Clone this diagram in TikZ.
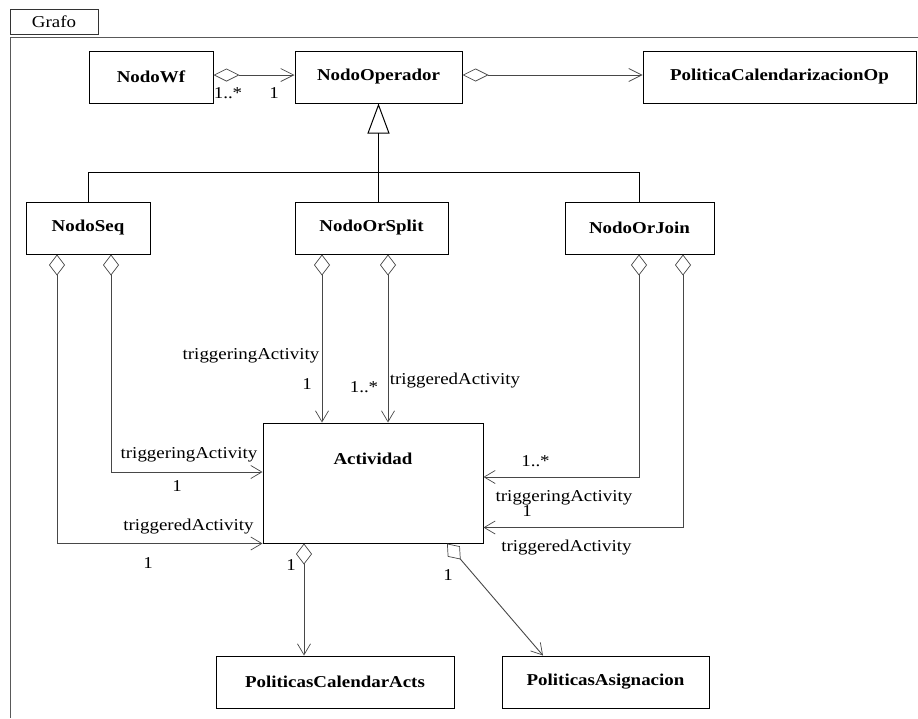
\documentclass[tikz,border=0pt]{standalone}
\usepackage{fontspec}
\setmainfont{Liberation Serif}[FakeStretch=1.14]
\usetikzlibrary{arrows.meta,calc}

\begin{document}
\begin{tikzpicture}[x=1pt,y=-1pt,
  txt/.style={font=\fontsize{16.6}{19}\selectfont},
  cls/.style={draw=black, line width=1pt, fill=white, inner sep=0pt,
    minimum height=52pt, font=\fontsize{16.6}{19}\selectfont\bfseries},
  lbl/.style={txt, inner sep=0pt, text=black},
  assoc/.style={draw=black!72, line width=0.9pt},
  aggnav/.style={assoc, arrows={Diamond[open,length=21pt,width=16pt,line width=0.7pt]-Straight Barb[length=11pt,width=13pt,line width=0.7pt]}},
  aggnavh/.style={assoc, arrows={Diamond[open,length=26pt,width=13pt,line width=0.7pt]-Straight Barb[length=13pt,width=13pt,line width=0.7pt]}},
  gen/.style={draw=black, line width=1pt},
  frameline/.style={draw=black!65, line width=1pt}]

\useasboundingbox (0,0) rectangle (918,718);

% package frame with its tab
\node[txt, draw=black!80, line width=0.8pt, minimum width=88pt, minimum height=25pt, inner sep=0pt] (tab) at (54,22) {Grafo};
\draw[frameline] (918,37) -- (10,37) -- (10,718);

% classes
\node[cls, minimum width=124pt] (wf)   at (151,77)   {NodoWf};
\node[cls, minimum width=167pt] (op)   at (378.5,77) {NodoOperador};
\node[cls, minimum width=273pt] (pol)  at (779.5,77) {PoliticaCalendarizacionOp};
\node[cls, minimum width=124pt] (seq)  at (88,228)   {NodoSeq};
\node[cls, minimum width=153pt] (split) at (371.5,228) {NodoOrSplit};
\node[cls, minimum width=149pt] (join) at (639.5,228) {NodoOrJoin};
\node[cls, minimum width=220pt, minimum height=0pt, text height=41pt, text depth=79pt] (act) at (373,483) {Actividad};
\node[cls, minimum width=238pt] (cal)  at (335,682)   {PoliticasCalendarActs};
\node[cls, minimum width=207pt] (asig) at (605.5,682) {PoliticasAsignacion};

% aggregations along the top row
\draw[aggnavh] ([yshift=2pt]wf.east) -- ([yshift=2pt]op.west);
\draw[aggnavh] ([yshift=2pt]op.east) -- ([yshift=2pt]pol.west);
\node[lbl] (m1) at (228,93) {1..*};
\node[lbl] (m2) at (274,93) {1};

% generalization of the operator nodes
\coordinate (bar) at (0,172);
\draw[gen] (seq.north) |- (join.north |- bar) -- (join.north);
\draw[gen, -{Triangle[open,length=30pt,width=22pt,line width=1pt]}] (op.south |- split.north) -- (op.south);

% NodoOrSplit -> Actividad
\draw[aggnav] ([xshift=-49.5pt]split.south) -- ([xshift=-49.5pt]split.south |- act.north);
\draw[aggnav] ([xshift=16.5pt]split.south) -- ([xshift=16.5pt]split.south |- act.north);
\node[lbl] (s1) at (251,356) {triggeringActivity};
\node[lbl] (s2) at (307,384) {1};
\node[lbl] (s3) at (364,387) {1..*};
\node[lbl] (s4) at (455,381) {triggeredActivity};

% NodoSeq -> Actividad
\draw[aggnav] ([xshift=23pt]seq.south) |- ([yshift=11pt]act.west);
\draw[aggnav] ([xshift=-31pt]seq.south) |- (act.south west);
\node[lbl] (q1) at (189,455) {triggeringActivity};
\node[lbl] (q2) at (177,486) {1};
\node[lbl] (q3) at (188.5,527) {triggeredActivity};
\node[lbl] (q4) at (148,563) {1};

% NodoOrJoin -> Actividad
\draw[aggnav] ([xshift=-0.5pt]join.south) |- ([yshift=6pt]act.east);
\draw[aggnav] ([xshift=43.5pt]join.south) |- ([yshift=-44.5pt]act.east);
\node[lbl] (j1) at (535.5,461) {1..*};
\node[lbl] (j2) at (564,498) {triggeringActivity};
\node[lbl] (j3) at (527,511) {1};
\node[lbl] (j4) at (566.5,548) {triggeredActivity};

% Actividad -> policies
\draw[aggnav] ([xshift=-69pt]act.south) -- ([xshift=-69pt]act.south |- cal.north);
\draw[aggnav] ([xshift=74pt]act.south) -- ([xshift=-62.5pt]asig.north);
\node[lbl] (a1) at (291,565) {1};
\node[lbl] (a2) at (448,575) {1};

\end{tikzpicture}
\end{document}
